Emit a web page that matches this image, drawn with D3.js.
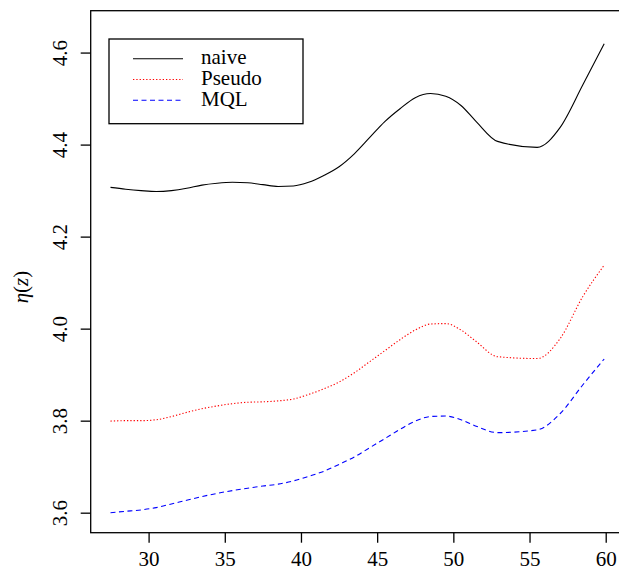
<!DOCTYPE html>
<html>
<head>
<meta charset="utf-8">
<script src="https://cdn.jsdelivr.net/npm/d3@7"></script>
<style>
  body { margin: 0; background: #fff; }
  text { font-family: "Liberation Serif", serif; }
</style>
</head>
<body>
<div class="chart"></div>
<script>
// Data
var z = [27.5, 28.5, 29.5, 30.5, 31.5, 32.5, 33.5, 34.5, 35.5, 36.5, 37.5, 38.5,
    39.5, 40.5, 41.5, 42.5, 43.5, 44.5, 45.5, 46.5, 47.5, 48.5, 49.5, 50.5, 51.5,
    52.9, 55.5, 57, 58.5, 59.9];
var naive = [4.307, 4.303, 4.300, 4.298, 4.300, 4.305, 4.312, 4.316, 4.318, 4.317,
    4.313, 4.309, 4.310, 4.318, 4.333, 4.352, 4.380, 4.415, 4.450, 4.478, 4.502,
    4.511, 4.505, 4.485, 4.450, 4.407, 4.394, 4.437, 4.530, 4.619];
var pseudo = [3.799, 3.800, 3.800, 3.802, 3.809, 3.818, 3.826, 3.832, 3.837, 3.840,
    3.841, 3.843, 3.847, 3.857, 3.869, 3.884, 3.904, 3.928, 3.952, 3.976, 3.997,
    4.010, 4.011, 3.997, 3.972, 3.939, 3.935, 3.978, 4.070, 4.138];
var mql = [3.600, 3.603, 3.606, 3.611, 3.619, 3.627, 3.635, 3.642, 3.648, 3.653,
    3.658, 3.662, 3.669, 3.679, 3.690, 3.705, 3.721, 3.741, 3.761, 3.781, 3.799,
    3.809, 3.810, 3.802, 3.788, 3.774, 3.780, 3.815, 3.878, 3.934];
var seriesNames = ["naive", "Pseudo", "MQL"];
var xTicks = [30, 35, 40, 45, 50, 55, 60];
var yTicks = [3.6, 3.8, 4.0, 4.2, 4.4, 4.6];

// Configuration
var width = 619;
var height = 569;
var mLeft = 90.7, mRight = 624, mTop = 10.7, mBottom = 532.7;
var serif = "'Liberation Serif', serif";

var svg = d3.select(".chart").append("svg")
    .attr("width", width)
    .attr("height", height);

var x = d3.scaleLinear().domain([26.2, 61.2]).range([mLeft, mRight]);
var y = d3.scaleLinear().domain([3.5565, 4.691]).range([mBottom, mTop]);

// Plot box
svg.append("rect")
    .attr("x", mLeft).attr("y", mTop)
    .attr("width", mRight - mLeft).attr("height", mBottom - mTop)
    .attr("fill", "none").attr("stroke", "#000").attr("stroke-width", 1.3);

// Axes
var xAxis = svg.append("g")
    .attr("transform", "translate(0," + mBottom + ")")
    .call(d3.axisBottom(x).tickValues(xTicks).tickSize(10)
        .tickFormat(d3.format("d")));
var yAxis = svg.append("g")
    .attr("transform", "translate(" + mLeft + ",0)")
    .call(d3.axisLeft(y).tickValues(yTicks).tickSize(10)
        .tickFormat(d3.format(".1f")));

[xAxis, yAxis].forEach(function(g) {
    g.attr("font-family", serif).attr("font-size", 21);
    g.select(".domain").remove();
    g.selectAll("line").attr("stroke", "#000").attr("stroke-width", 1.3);
    g.selectAll("text").attr("fill", "#000");
});
xAxis.selectAll("text").attr("dy", null).attr("y", 33);
yAxis.selectAll("text")
    .attr("x", 0).attr("dy", null)
    .attr("text-anchor", "middle")
    .attr("transform", "translate(-24,0) rotate(-90)");

// Y label
var ylab = svg.append("text")
    .attr("transform", "translate(28,287) rotate(-90)")
    .attr("text-anchor", "middle")
    .style("font-size", "21px");
ylab.append("tspan").style("font-style", "italic").text("η");
ylab.append("tspan").text("(");
ylab.append("tspan").style("font-style", "italic").text("z");
ylab.append("tspan").text(")");

// Lines
var series = [naive, pseudo, mql];
var strokes = ["#000", "#ff0000", "#0000ff"];
var dashes = [null, "1.3,2", "5,3.5"];

var line = d3.line()
    .x(function(d, i) { return x(z[i]); })
    .y(function(d) { return y(d); })
    .curve(d3.curveMonotoneX);

svg.selectAll("path.series")
    .data(series)
    .enter().append("path")
    .attr("class", "series")
    .attr("fill", "none")
    .attr("stroke", function(d, i) { return strokes[i]; })
    .attr("stroke-width", 1.1)
    .attr("stroke-dasharray", function(d, i) { return dashes[i]; })
    .attr("d", line);

// Legend
var legend = svg.append("g");
legend.append("rect")
    .attr("x", 109).attr("y", 39).attr("width", 194).attr("height", 84.7)
    .attr("fill", "#fff").attr("stroke", "#000").attr("stroke-width", 1.3);

var rows = legend.selectAll("g.row")
    .data(seriesNames)
    .enter().append("g")
    .attr("class", "row")
    .attr("transform", function(d, i) { return "translate(0," + (58.7 + i * 20.8) + ")"; });
rows.append("line")
    .attr("x1", 133).attr("x2", 183)
    .attr("stroke", function(d, i) { return strokes[i]; })
    .attr("stroke-width", 1.1)
    .attr("stroke-dasharray", function(d, i) { return dashes[i]; });
rows.append("text")
    .attr("x", 201).attr("y", 5.5)
    .style("font-size", "21px")
    .text(function(d) { return d; });
</script>
</body>
</html>
